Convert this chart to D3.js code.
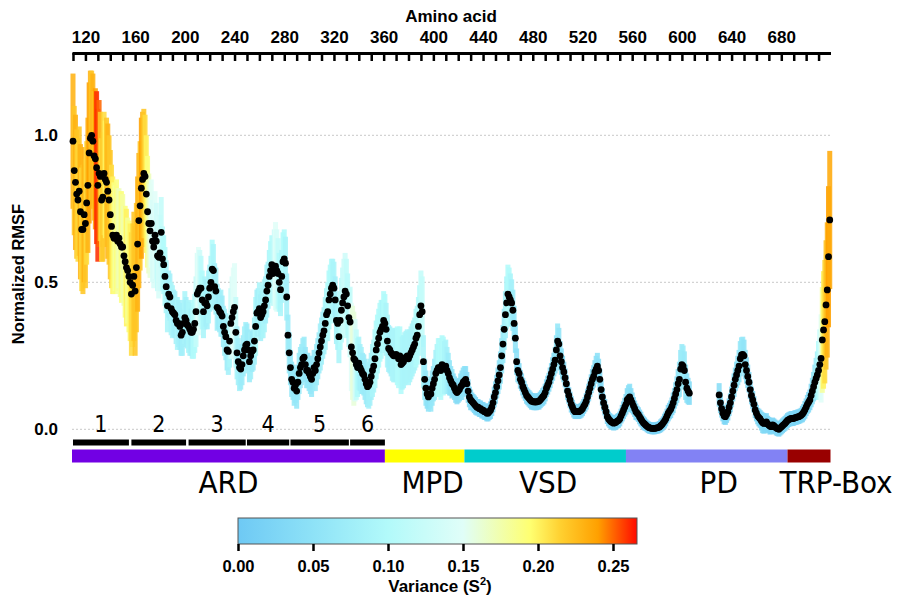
<!DOCTYPE html>
<html>
<head>
<meta charset="utf-8">
<script src="https://cdn.jsdelivr.net/npm/d3@7"></script>
<style>
  body { margin: 0; background: #fff; }
  svg { display: block; font-family: Arial, "Liberation Sans", sans-serif; }
</style>
</head>
<body>
<div id="chart"></div>
<script>
// residue numbering of the first value in rmsf / variance
const firstResidue = 110;

// normalized RMSF per residue (null = not resolved)
const rmsf = [
  0.98,0.88,0.84,0.80,0.78,0.81,0.74,0.68,0.68,0.73,
  0.70,0.77,0.83,0.94,0.99,1.00,0.98,0.93,0.92,0.89,
  0.83,0.87,0.86,0.78,0.79,0.87,0.85,0.84,0.81,0.78,
  0.73,0.69,0.66,0.65,0.65,0.66,0.64,0.65,0.63,0.62,
  0.62,0.59,0.57,0.55,0.54,0.52,0.50,0.46,0.49,0.52,
  0.47,0.55,0.63,0.71,0.76,0.82,0.85,0.87,0.86,0.80,
  0.74,0.70,0.675,0.70,0.64,0.62,0.66,0.64,0.59,0.585,
  0.60,0.67,0.58,0.56,0.52,0.485,0.42,0.46,0.45,0.41,
  0.40,0.395,0.39,0.37,0.36,0.36,0.35,0.32,0.33,0.36,
  0.38,0.37,0.355,0.35,0.34,0.33,0.33,0.34,0.36,0.40,
  0.46,0.47,0.48,0.48,0.44,0.40,0.43,0.43,0.42,0.45,
  0.48,0.50,0.545,0.54,0.485,0.47,0.415,0.41,0.40,0.395,
  0.385,0.35,0.33,0.315,0.27,0.265,0.30,0.36,0.38,0.40,
  0.415,0.33,0.26,0.23,0.21,0.205,0.22,0.25,0.27,0.285,
  0.29,0.27,0.23,0.25,0.265,0.27,0.30,0.35,0.395,0.40,
  0.41,0.38,0.39,0.40,0.42,0.44,0.47,0.49,0.52,0.54,
  0.56,0.53,0.55,0.555,0.54,0.53,0.50,0.475,0.52,0.57,
  0.58,0.565,0.45,0.32,0.26,0.21,0.17,0.16,0.14,0.15,
  0.13,0.16,0.19,0.21,0.22,0.24,0.245,0.22,0.20,0.20,
  0.19,0.18,0.17,0.19,0.21,0.20,0.22,0.24,0.26,0.28,
  0.30,0.32,0.335,0.36,0.39,0.40,0.44,0.46,0.48,0.49,
  0.48,0.44,0.37,0.36,0.315,0.37,0.405,0.43,0.45,0.47,
  0.46,0.42,0.38,0.365,0.28,0.26,0.24,0.235,0.22,0.21,
  0.225,0.21,0.20,0.19,0.185,0.17,0.155,0.145,0.15,0.16,
  0.18,0.20,0.215,0.24,0.27,0.29,0.31,0.33,0.34,0.35,
  0.37,0.36,0.34,0.30,0.275,0.27,0.26,0.255,0.25,0.25,
  0.255,0.25,0.24,0.25,0.22,0.225,0.23,0.24,0.245,0.25,
  0.24,0.25,0.26,0.27,0.28,0.29,0.31,0.32,0.35,0.39,
  0.42,0.40,0.23,0.17,0.14,0.12,0.11,0.12,0.12,0.14,
  0.155,0.17,0.19,0.20,0.21,0.21,0.20,0.22,0.215,0.21,
  0.215,0.20,0.19,0.175,0.165,0.155,0.15,0.14,0.13,0.125,
  0.13,0.135,0.145,0.15,0.16,0.165,0.17,0.155,0.13,0.11,
  0.10,0.095,0.09,0.085,0.08,0.075,0.075,0.07,0.07,0.065,
  0.065,0.06,0.06,0.055,0.055,0.06,0.065,0.075,0.09,0.11,
  0.125,0.145,0.165,0.185,0.21,0.25,0.29,0.34,0.39,0.43,
  0.46,0.45,0.44,0.43,0.405,0.36,0.31,0.23,0.20,0.19,
  0.17,0.16,0.145,0.135,0.125,0.115,0.11,0.105,0.10,0.095,
  0.095,0.093,0.093,0.093,0.095,0.095,0.10,0.105,0.11,0.115,
  0.125,0.14,0.15,0.16,0.175,0.19,0.205,0.22,0.235,0.27,
  0.30,0.29,0.25,0.23,0.21,0.195,0.175,0.155,0.13,0.115,
  0.10,0.085,0.075,0.065,0.06,0.06,0.06,0.06,0.062,0.065,
  0.07,0.078,0.085,0.095,0.11,0.125,0.14,0.155,0.17,0.18,
  0.195,0.205,0.215,0.20,0.17,0.135,0.11,0.09,0.075,0.06,
  0.043,0.035,0.03,0.026,0.023,0.021,0.022,0.024,0.028,0.03,
  0.035,0.045,0.055,0.065,0.075,0.085,0.10,0.105,0.11,0.10,
  0.09,0.08,0.07,0.06,0.055,0.05,0.042,0.035,0.028,0.022,
  0.018,0.014,0.01,0.007,0.005,0.004,0.003,0.003,0.003,0.004,
  0.005,0.006,0.008,0.012,0.016,0.022,0.028,0.035,0.045,0.055,
  0.062,0.068,0.078,0.09,0.105,0.12,0.135,0.155,0.17,0.205,
  0.22,0.215,0.20,0.16,0.14,0.13,0.123,null,null,null,
  null,null,null,null,null,null,null,null,null,null,
  null,null,null,null,null,null,null,null,null,null,
  0.117,0.09,0.07,0.055,0.045,0.043,0.05,0.06,0.075,0.09,
  0.11,0.13,0.15,0.17,0.185,0.20,0.215,0.24,0.253,0.255,
  0.25,0.22,0.20,0.18,0.16,0.135,0.115,0.10,0.085,0.066,
  0.055,0.045,0.04,0.035,0.028,0.022,0.02,0.02,0.025,0.018,
  0.014,0.01,0.009,0.015,0.012,0.008,0.004,0.002,0.0,0.004,
  0.008,0.012,0.016,0.02,0.025,0.03,0.033,0.035,0.037,0.036,
  0.037,0.04,0.04,0.042,0.043,0.045,0.048,0.052,0.058,0.066,
  0.075,0.085,0.092,0.10,0.115,0.13,0.145,0.16,0.173,0.185,
  0.20,0.22,0.241,0.304,0.338,0.366,0.423,0.474,0.587,0.712
];

// variance (S^2) per residue, same indexing
const variance = [
  0.23,0.22,0.23,0.22,0.21,0.22,0.23,0.21,0.22,0.23,
  0.22,0.21,0.23,0.24,0.23,0.22,0.23,0.22,0.24,0.26,
  0.26,0.25,0.22,0.21,0.22,0.21,0.20,0.22,0.23,0.22,
  0.22,0.21,0.20,0.19,0.18,0.19,0.18,0.17,0.18,0.19,
  0.18,0.17,0.19,0.20,0.18,0.19,0.20,0.21,0.21,0.22,
  0.22,0.22,0.23,0.23,0.22,0.24,0.23,0.22,0.21,0.20,
  0.19,0.17,0.16,0.15,0.14,0.14,0.15,0.13,0.12,0.14,
  0.13,0.12,0.11,0.10,0.10,0.09,0.09,0.08,0.08,0.09,
  0.09,0.08,0.08,0.08,0.09,0.08,0.08,0.07,0.08,0.08,
  0.09,0.08,0.08,0.09,0.09,0.08,0.09,0.10,0.10,0.12,
  0.14,0.15,0.13,0.11,0.10,0.09,0.09,0.08,0.08,0.09,
  0.08,0.09,0.10,0.09,0.08,0.08,0.08,0.07,0.07,0.08,
  0.07,0.07,0.08,0.08,0.07,0.08,0.09,0.12,0.14,0.15,
  0.15,0.12,0.09,0.08,0.08,0.07,0.07,0.07,0.08,0.08,
  0.07,0.07,0.07,0.08,0.07,0.07,0.08,0.10,0.08,0.08,
  0.09,0.08,0.08,0.09,0.09,0.08,0.09,0.08,0.09,0.10,
  0.10,0.11,0.13,0.15,0.14,0.12,0.10,0.09,0.09,0.10,
  0.10,0.09,0.08,0.07,0.07,0.06,0.06,0.06,0.06,0.06,
  0.06,0.06,0.07,0.07,0.07,0.07,0.07,0.06,0.06,0.06,
  0.06,0.06,0.06,0.06,0.06,0.07,0.07,0.07,0.07,0.08,
  0.08,0.08,0.08,0.09,0.09,0.10,0.10,0.10,0.10,0.09,
  0.09,0.08,0.08,0.09,0.09,0.10,0.11,0.12,0.13,0.13,
  0.12,0.11,0.10,0.12,0.15,0.16,0.16,0.14,0.12,0.10,
  0.09,0.08,0.08,0.07,0.07,0.07,0.07,0.07,0.08,0.08,
  0.08,0.09,0.09,0.10,0.10,0.10,0.10,0.10,0.10,0.09,
  0.10,0.10,0.09,0.09,0.08,0.08,0.08,0.09,0.09,0.09,
  0.09,0.10,0.10,0.10,0.10,0.09,0.09,0.09,0.09,0.09,
  0.09,0.09,0.09,0.09,0.09,0.09,0.10,0.10,0.10,0.10,
  0.12,0.12,0.09,0.07,0.06,0.05,0.05,0.05,0.06,0.06,
  0.06,0.07,0.08,0.09,0.10,0.10,0.10,0.10,0.10,0.09,
  0.09,0.08,0.07,0.06,0.05,0.05,0.04,0.04,0.04,0.04,
  0.04,0.04,0.045,0.05,0.05,0.05,0.045,0.04,0.04,0.035,
  0.035,0.03,0.03,0.03,0.03,0.028,0.028,0.028,0.028,0.028,
  0.028,0.028,0.028,0.028,0.028,0.028,0.03,0.03,0.032,0.035,
  0.038,0.04,0.045,0.05,0.055,0.06,0.065,0.07,0.08,0.09,
  0.10,0.10,0.09,0.08,0.07,0.06,0.05,0.045,0.04,0.035,
  0.032,0.03,0.03,0.03,0.028,0.028,0.028,0.028,0.028,0.028,
  0.028,0.028,0.028,0.028,0.028,0.028,0.028,0.028,0.03,0.03,
  0.03,0.03,0.032,0.032,0.035,0.035,0.04,0.04,0.045,0.05,
  0.06,0.055,0.05,0.045,0.04,0.035,0.032,0.03,0.03,0.028,
  0.028,0.028,0.025,0.025,0.025,0.025,0.025,0.025,0.025,0.025,
  0.025,0.025,0.025,0.028,0.028,0.03,0.03,0.032,0.035,0.038,
  0.04,0.045,0.045,0.04,0.035,0.032,0.03,0.028,0.028,0.025,
  0.025,0.025,0.025,0.025,0.025,0.025,0.025,0.025,0.025,0.025,
  0.025,0.025,0.028,0.03,0.032,0.035,0.04,0.045,0.045,0.04,
  0.035,0.03,0.028,0.028,0.025,0.025,0.025,0.025,0.022,0.022,
  0.022,0.02,0.02,0.02,0.02,0.02,0.02,0.02,0.02,0.02,
  0.02,0.02,0.02,0.022,0.022,0.022,0.025,0.025,0.025,0.028,
  0.028,0.03,0.03,0.035,0.035,0.04,0.045,0.05,0.06,0.065,
  0.07,0.07,0.065,0.06,0.05,0.045,0.04,null,null,null,
  null,null,null,null,null,null,null,null,null,null,
  null,null,null,null,null,null,null,null,null,null,
  0.04,0.035,0.03,0.028,0.028,0.028,0.028,0.03,0.03,0.032,
  0.035,0.035,0.04,0.04,0.045,0.05,0.055,0.06,0.06,0.06,
  0.055,0.05,0.045,0.04,0.035,0.032,0.03,0.03,0.028,0.028,
  0.028,0.028,0.03,0.03,0.032,0.035,0.035,0.032,0.03,0.028,
  0.028,0.028,0.025,0.025,0.025,0.025,0.025,0.025,0.025,0.025,
  0.025,0.025,0.025,0.025,0.025,0.025,0.025,0.025,0.025,0.025,
  0.025,0.025,0.025,0.025,0.025,0.025,0.025,0.028,0.028,0.03,
  0.03,0.032,0.035,0.035,0.04,0.045,0.05,0.06,0.07,0.08,
  0.10,0.12,0.15,0.18,0.20,0.21,0.22,0.23,0.24,0.235
];

// ankyrin repeats
const repeatNames = ["1", "2", "3", "4", "5", "6"];
const repeatStart = [110, 157, 203, 250, 285, 333];
const repeatEnd = [155, 201, 249, 284, 332, 361];

// domains
const domainNames = ["ARD", "MPD", "VSD", "PD", "TRP-Box"];
const domainStart = [109.2, 361, 425, 555, 685];
const domainEnd = [361, 425, 555, 685, 719.6];
const domainColors = ["#7200e4", "#ffff00", "#00cccc", "#8282f4", "#990000"];

// variance colour map
const varianceStops = [0, 0.05, 0.10, 0.15, 0.195, 0.215, 0.24, 0.266];
const varianceColors = ["#6ec9f4", "#8ee2f7", "#b2fafa", "#e0fef8", "#ffff70", "#ffd030", "#ffa000", "#ff0a00"];
const varianceTicks = [0, 0.05, 0.10, 0.15, 0.20, 0.25];

const yTicks = [0, 0.5, 1.0];

const width = 900, height = 605;

const svg = d3.select("#chart").append("svg")
    .attr("width", width)
    .attr("height", height);

const x = d3.scaleLinear().domain([109.2, 719.6]).range([72, 830.5]);
const y = d3.scaleLinear().domain([0, 1]).range([429.3, 135.3]);
const color = d3.scaleLinear().domain(varianceStops).range(varianceColors).clamp(true);

const data = rmsf.map((v, i) => ({ res: firstResidue + i, v: v, s2: variance[i] }))
    .filter(d => d.v !== null);

// grid lines
svg.append("g").selectAll("line")
    .data(yTicks)
    .enter().append("line")
    .attr("x1", 72).attr("x2", 830)
    .attr("y1", d => y(d)).attr("y2", d => y(d))
    .attr("stroke", "#c8c8c8")
    .attr("stroke-width", 1)
    .attr("stroke-dasharray", "2,2");

// y labels
svg.append("g").selectAll("text")
    .data(yTicks)
    .enter().append("text")
    .attr("x", 58).attr("y", d => y(d))
    .attr("dy", "0.36em")
    .attr("text-anchor", "end")
    .attr("font-size", 17).attr("font-weight", "bold")
    .text(d => d3.format(".1f")(d));

svg.append("text")
    .attr("transform", "translate(24,274) rotate(-90)")
    .attr("text-anchor", "middle")
    .attr("font-size", 16.5).attr("font-weight", "bold")
    .text("Normalized RMSF");

// variance bars
svg.append("g").selectAll("rect")
    .data(data)
    .enter().append("rect")
    .attr("x", d => x(d.res) - 2.5)
    .attr("width", 5)
    .attr("y", d => y(d.v + d.s2))
    .attr("height", d => y(d.v - d.s2) - y(d.v + d.s2))
    .attr("fill", d => color(d.s2))
    .attr("fill-opacity", 0.88);

// RMSF dots
svg.append("g").selectAll("circle")
    .data(data)
    .enter().append("circle")
    .attr("cx", d => x(d.res))
    .attr("cy", d => y(d.v))
    .attr("r", 3.4)
    .attr("fill", "#000");

// top axis
const xAxis = d3.axisTop(x)
    .tickValues(d3.range(110, 720, 10))
    .tickFormat(d => (d % 40 === 0 && d >= 120 && d <= 680) ? d : "")
    .tickSize(-8)
    .tickSizeOuter(0)
    .tickPadding(10);

const gx = svg.append("g")
    .attr("transform", "translate(0,53)")
    .call(xAxis);
gx.select(".domain").attr("stroke-width", 3);
gx.selectAll(".tick line").attr("stroke-width", 2.5);
gx.selectAll(".tick text")
    .attr("font-size", 17).attr("font-weight", "bold")
    .attr("font-family", "Arial, 'Liberation Sans', sans-serif")
    .attr("fill", "#000");

svg.append("text")
    .attr("x", 451).attr("y", 22)
    .attr("text-anchor", "middle")
    .attr("font-size", 17).attr("font-weight", "bold")
    .text("Amino acid");

// ankyrin repeat bars
const labelFont = "'DejaVu Sans Condensed', 'DejaVu Sans', Verdana, sans-serif";
const repeats = svg.append("g");
repeatNames.forEach((name, i) => {
  repeats.append("rect")
      .attr("x", x(repeatStart[i]))
      .attr("width", x(repeatEnd[i]) - x(repeatStart[i]))
      .attr("y", 439.5).attr("height", 6)
      .attr("fill", "#000");
  repeats.append("text")
      .attr("x", (x(repeatStart[i]) + x(repeatEnd[i])) / 2)
      .attr("y", 432)
      .attr("text-anchor", "middle")
      .attr("font-family", labelFont)
      .attr("font-stretch", "condensed")
      .attr("font-size", 23)
      .text(name);
});

// domain bar
const labelDx = [0, 8, 3, 12, 27];
const domains = svg.append("g");
domainNames.forEach((name, i) => {
  domains.append("rect")
      .attr("x", x(domainStart[i]))
      .attr("width", x(domainEnd[i]) - x(domainStart[i]))
      .attr("y", 449.5).attr("height", 13)
      .attr("fill", domainColors[i]);
  domains.append("text")
      .attr("x", (x(domainStart[i]) + x(domainEnd[i])) / 2 + labelDx[i])
      .attr("y", 493)
      .attr("text-anchor", "middle")
      .attr("font-family", labelFont)
      .attr("font-stretch", "condensed")
      .attr("font-size", 31)
      .text(name);
});

// colour bar
const cbX = d3.scaleLinear().domain([0, 0.266]).range([238, 637]);
const defs = svg.append("defs");
const grad = defs.append("linearGradient")
    .attr("id", "varGrad")
    .attr("x1", "0%").attr("x2", "100%").attr("y1", "0%").attr("y2", "0%");
grad.selectAll("stop")
    .data(varianceStops)
    .enter().append("stop")
    .attr("offset", d => (d / 0.266 * 100) + "%")
    .attr("stop-color", (d, i) => varianceColors[i]);

svg.append("rect")
    .attr("x", 238).attr("y", 518)
    .attr("width", 399).attr("height", 26)
    .attr("fill", "url(#varGrad)")
    .attr("stroke", "#555").attr("stroke-width", 1);

const cAxis = d3.axisBottom(cbX)
    .tickValues(varianceTicks)
    .tickFormat(d3.format(".2f"))
    .tickSize(7)
    .tickSizeOuter(0)
    .tickPadding(9);

const gc = svg.append("g")
    .attr("transform", "translate(0,544)")
    .call(cAxis);
gc.select(".domain").remove();
gc.selectAll(".tick line").attr("stroke-width", 2.5);
gc.selectAll(".tick text")
    .attr("font-size", 16.5).attr("font-weight", "bold")
    .attr("font-family", "Arial, 'Liberation Sans', sans-serif")
    .attr("fill", "#000");

const vt = svg.append("text")
    .attr("x", 440).attr("y", 592)
    .attr("text-anchor", "middle")
    .attr("font-size", 17).attr("font-weight", "bold");
vt.append("tspan").text("Variance (S");
vt.append("tspan").attr("dy", -7).attr("font-size", 11).text("2");
vt.append("tspan").attr("dy", 7).text(")");
</script>
</body>
</html>
